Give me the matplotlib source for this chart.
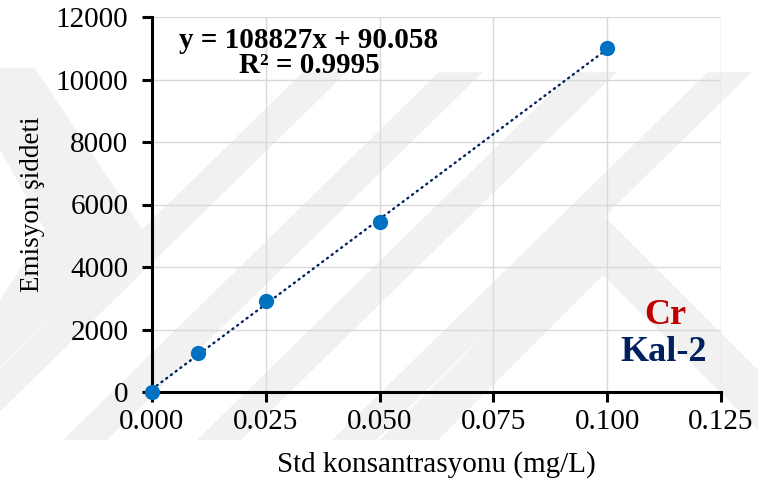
import matplotlib
matplotlib.use("Agg")
import matplotlib.pyplot as plt
from matplotlib.patches import Polygon
import numpy as np

# Calibration data for Cr (Kal-2)
conc = [0.000, 0.010, 0.025, 0.050, 0.100]          # mg/L
emission = [0, 1250, 2900, 5440, 11000]             # emission intensity
slope = 108827
intercept = 90.058
r_squared = 0.9995

x_ticks = [0.000, 0.025, 0.050, 0.075, 0.100, 0.125]
y_ticks = [0, 2000, 4000, 6000, 8000, 10000, 12000]

plt.rcParams['font.family'] = ['Liberation Serif', 'DejaVu Serif']

W, H = 758, 491
fig = plt.figure(figsize=(W / 100, H / 100), dpi=100)
fig.patch.set_facecolor('white')

# faint background watermark, drawn in pixel space
bg = fig.add_axes([0, 0, 1, 1], zorder=0)
bg.set_xlim(0, W)
bg.set_ylim(H, 0)
bg.axis('off')
wm = '#f1f1f1'
shapes = [
    [(0, 68), (35, 68), (143, 230), (0, 367), (0, 300), (45, 230), (0, 150)],
    [(380, 440), (603, 215), (758, 370), (758, 430), (603, 275), (438, 440)],
]
for c in [325, 461, 595, 730]:
    shapes.append([(c - 22, 72), (c + 22, 72), (c + 22 - 376, 440), (c - 22 - 376, 440)])
for s in shapes:
    bg.add_patch(Polygon(s, closed=True, facecolor=wm, edgecolor='none'))

ax = fig.add_axes([152 / W, 1 - 392 / H, (721 - 152) / W, (392 - 17) / H], zorder=1)
ax.set_facecolor('none')

ax.set_xlim(0, 0.125)
ax.set_ylim(0, 12000)
ax.set_xticks(x_ticks)
ax.set_yticks(y_ticks)
ax.set_xticklabels([f"{v:.3f}" for v in x_ticks])
ax.set_yticklabels([str(v) for v in y_ticks])

ax.grid(True, color='#d9d9d9', linewidth=1.0)
ax.set_axisbelow(True)
for side in ['top', 'right']:
    ax.spines[side].set_visible(False)
for side in ['left', 'bottom']:
    ax.spines[side].set_linewidth(2.2)
    ax.spines[side].set_color('black')
ax.tick_params(axis='both', direction='out', length=7, width=2.2,
               labelsize=21, colors='black')
ax.tick_params(axis='x', pad=5)
ax.tick_params(axis='y', pad=10)

# linear trendline
xs = np.array([min(conc), max(conc)])
ax.plot(xs, slope * xs + intercept, color='#002060', linewidth=1.7,
        linestyle=(0, (0.5, 2.0)), dash_capstyle='round', zorder=3, clip_on=False)

ax.plot(conc, emission, linestyle='none', marker='o', markersize=11,
        color='#0070C0', markeredgewidth=0, zorder=4, clip_on=False)

ax.set_xlabel('Std konsantrasyonu (mg/L)', fontsize=21, labelpad=12)
ax.set_ylabel('Emisyon şiddeti', fontsize=19.5, labelpad=8)

ax.text(0.0343, 11264, f"y = {slope}x + {intercept}", fontsize=21,
        fontweight='bold', ha='center', va='center', color='black')
ax.text(0.0345, 10450, f"R² = {r_squared}", fontsize=21,
        fontweight='bold', ha='center', va='center', color='black')

ax.text(0.1128, 2450, 'Cr', fontsize=26, fontweight='bold', color='#C00000',
        ha='center', va='center')
ax.text(0.1125, 1250, 'Kal-2', fontsize=26, fontweight='bold', color='#002060',
        ha='center', va='center')

fig.savefig('out.png', dpi=100, facecolor='white')
